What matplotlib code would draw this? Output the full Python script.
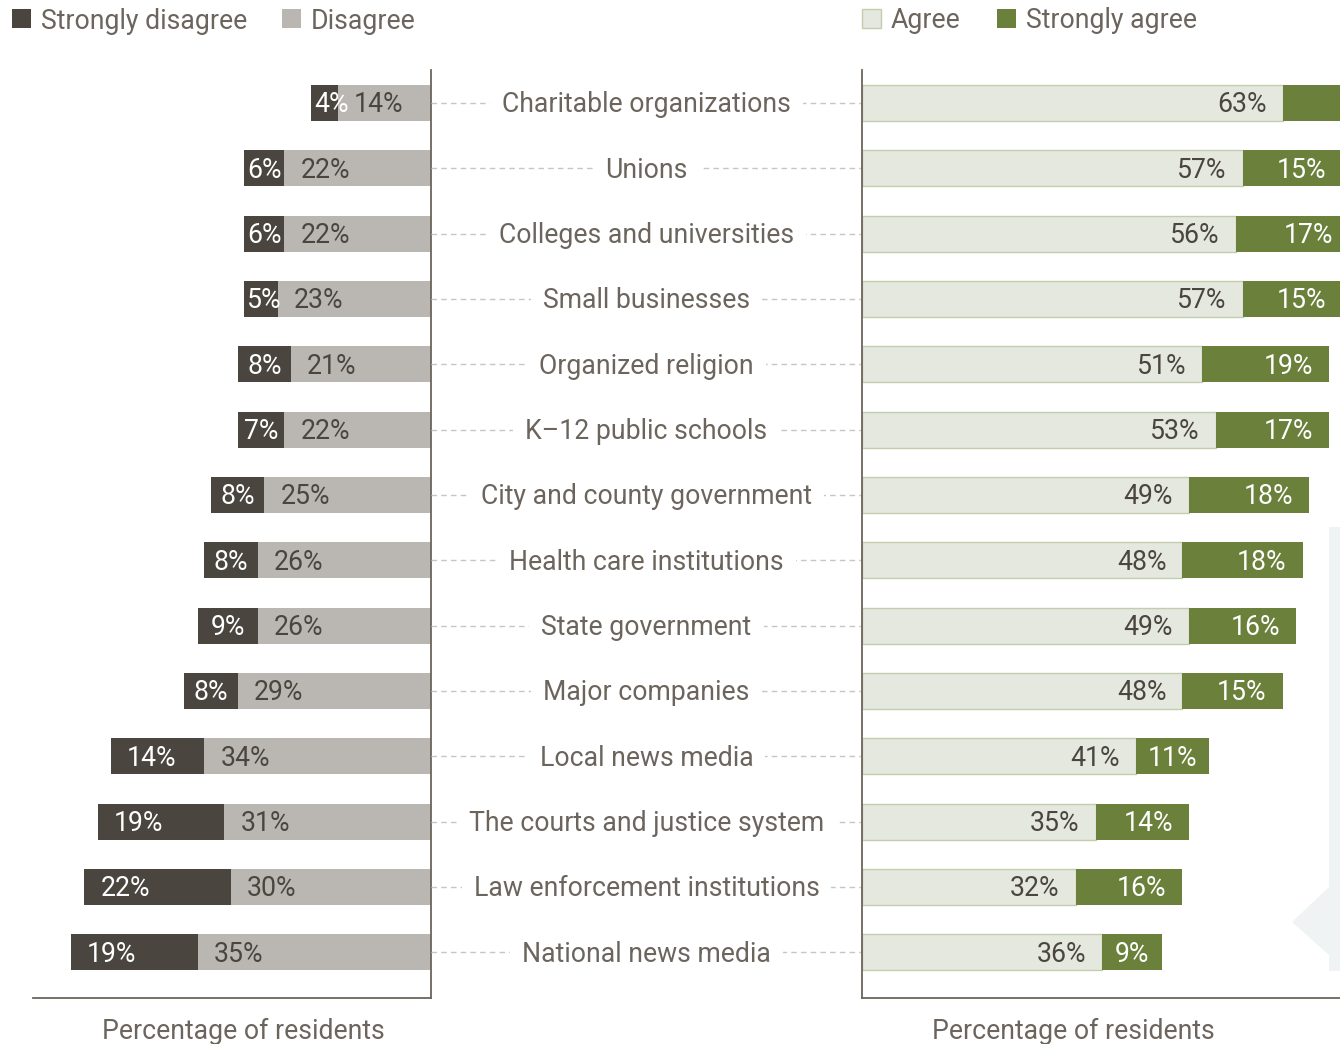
import matplotlib
matplotlib.use("Agg")
import matplotlib.pyplot as plt
from matplotlib.patches import Rectangle, Polygon
import numpy as np

plt.rcParams['font.family'] = ['Roboto', 'DejaVu Sans']

# data
CATEGORIES = ["Charitable organizations", "Unions", "Colleges and universities",
              "Small businesses", "Organized religion", "K\u201312 public schools",
              "City and county government", "Health care institutions",
              "State government", "Major companies", "Local news media",
              "The courts and justice system", "Law enforcement institutions",
              "National news media"]
STRONGLY_DISAGREE = [4, 6, 6, 5, 8, 7, 8, 8, 9, 8, 14, 19, 22, 19]
DISAGREE = [14, 22, 22, 23, 21, 22, 25, 26, 26, 29, 34, 31, 30, 35]
AGREE = [63, 57, 56, 57, 51, 53, 49, 48, 49, 48, 41, 35, 32, 36]
STRONGLY_AGREE = [19, 15, 17, 15, 19, 17, 18, 18, 16, 15, 11, 14, 16, 9]

# style
W, H, DPI = 1340, 1044, 100
SD_COLOR = "#4a453f"
D_COLOR = "#bab7b2"
A_COLOR = "#e5e8de"
A_EDGE = "#c3ccae"
SA_COLOR = "#6b803a"
TEXT = "#6b655d"
DARK_TEXT = "#4a453f"
SPINE = "#6b655d"
FS = 19.2
BAR_H = 0.55
DY = -2 * 72 / DPI  # small downward nudge for text, in points
LEFT_MAX = 59.7
RIGHT_MAX = 71.6

fig = plt.figure(figsize=(W / DPI, H / DPI), dpi=DPI)


def fx(px):
    return px / W


def fy(py):
    return 1 - py / H


top, bottom = 70, 998
ax_l = fig.add_axes([fx(33), fy(bottom), fx(431 - 33), (bottom - top) / H])
ax_m = fig.add_axes([fx(431), fy(bottom), fx(862 - 431), (bottom - top) / H])
ax_r = fig.add_axes([fx(862), fy(bottom), fx(1340 - 862), (bottom - top) / H])

y = np.arange(len(CATEGORIES))
for ax in (ax_l, ax_m, ax_r):
    ax.set_ylim(13.70, -0.505)
    ax.set_facecolor("none")
    ax.set_xticks([])
    ax.set_yticks([])
    for s in ax.spines.values():
        s.set_visible(False)
        s.set_color(SPINE)
        s.set_linewidth(1.3)

# left panel
ax_l.barh(y, DISAGREE, height=BAR_H, color=D_COLOR)
ax_l.barh(y, STRONGLY_DISAGREE, left=DISAGREE, height=BAR_H, color=SD_COLOR)
ax_l.set_xlim(LEFT_MAX, 0)
ax_l.spines["right"].set_visible(True)
ax_l.spines["bottom"].set_visible(True)

# right panel (runs off the right edge, as in the original)
ax_r.barh(y, AGREE, height=BAR_H, color=A_COLOR, edgecolor=A_EDGE, linewidth=1)
ax_r.barh(y, STRONGLY_AGREE, left=AGREE, height=BAR_H, color=SA_COLOR)
ax_r.set_xlim(0, RIGHT_MAX)
ax_r.spines["left"].set_visible(True)
ax_r.spines["bottom"].set_visible(True)

# middle labels with dashed leaders
ax_m.set_xlim(0, 1)
ax_m.hlines(y, 0, 1, colors="#c8c6c2", linewidth=1, linestyles=(0, (4, 3)))
for yi, cat in zip(y, CATEGORIES):
    ax_m.annotate(cat, xy=(0.5, yi), xytext=(0, DY), textcoords="offset points",
                  ha="center", va="center", fontsize=FS, color=TEXT,
                  bbox=dict(boxstyle="square,pad=0.45", fc="white", ec="none"))

# value labels: placed at the outer edge of each segment, aligned inward
labels = []
for i in range(len(CATEGORIES)):
    sd, d, a, sa = STRONGLY_DISAGREE[i], DISAGREE[i], AGREE[i], STRONGLY_AGREE[i]
    labels.append((ax_l, d + sd, sd, i, "{}%".format(sd), "white", "left"))
    labels.append((ax_l, d, d, i, "{}%".format(d), DARK_TEXT, "left"))
    labels.append((ax_r, a, a, i, "{}%".format(a), DARK_TEXT, "right"))
    labels.append((ax_r, a + sa, sa, i, "{}%".format(sa), "white", "right"))

anns = []
for ax, edge, val, yi, s, col, ha in labels:
    t = ax.annotate(s, xy=(edge, yi), xytext=(0, DY), textcoords="offset points",
                    ha=ha, va="center", fontsize=FS, color=col,
                    annotation_clip=False, clip_on=True)
    anns.append((t, ax, edge, val, ha))

fig.canvas.draw()
renderer = fig.canvas.get_renderer()
right_px = ax_r.transAxes.transform((1, 0))[0]
for t, ax, edge, val, ha in anns:
    tw = t.get_window_extent(renderer).width
    x0 = ax.transData.transform((0, 0))[0]
    x1 = ax.transData.transform((val, 0))[0]
    w = abs(x1 - x0)
    pad = min(16, max(3, (w - tw) / 2))
    pad_pt = pad * 72 / DPI
    t.xyann = (pad_pt if ha == "left" else -pad_pt, DY)
    # drop a label that would sit wholly beyond the cut right edge
    if ha == "right":
        edge_px = ax.transData.transform((edge, 0))[0]
        if edge_px - pad - tw >= right_px:
            t.remove()


# legends
def legend_item(x_sq, x_txt, y_sq, label, fc, ec, baseline):
    fig.patches.append(Rectangle((fx(x_sq), fy(y_sq + 19)), fx(19), 19 / H,
                                 transform=fig.transFigure, facecolor=fc,
                                 edgecolor=ec, linewidth=1))
    fig.text(fx(x_txt), fy(baseline), label, fontsize=FS, color=TEXT,
             ha="left", va="baseline")


legend_item(12, 41, 9, "Strongly disagree", SD_COLOR, "none", 29)
legend_item(282, 311, 9, "Disagree", D_COLOR, "none", 29)
legend_item(862, 891, 9, "Agree", A_COLOR, A_EDGE, 28)
legend_item(997, 1026, 9, "Strongly agree", SA_COLOR, "none", 28)

fig.text(fx(243), fy(1031), "Percentage of residents", fontsize=FS,
         color=TEXT, ha="center", va="center")
fig.text(fx(1073), fy(1031), "Percentage of residents", fontsize=FS,
         color=TEXT, ha="center", va="center")

# faint panel at the right edge
pts = [(1329, 527), (1340, 527), (1340, 971), (1329, 971), (1329, 955),
       (1292, 922), (1329, 887)]
fig.patches.append(Polygon([(fx(px), fy(py)) for px, py in pts], closed=True,
                           transform=fig.transFigure, facecolor="#f0f3f4",
                           edgecolor="none", zorder=-1))

fig.savefig("out.png", dpi=DPI, facecolor="white")
